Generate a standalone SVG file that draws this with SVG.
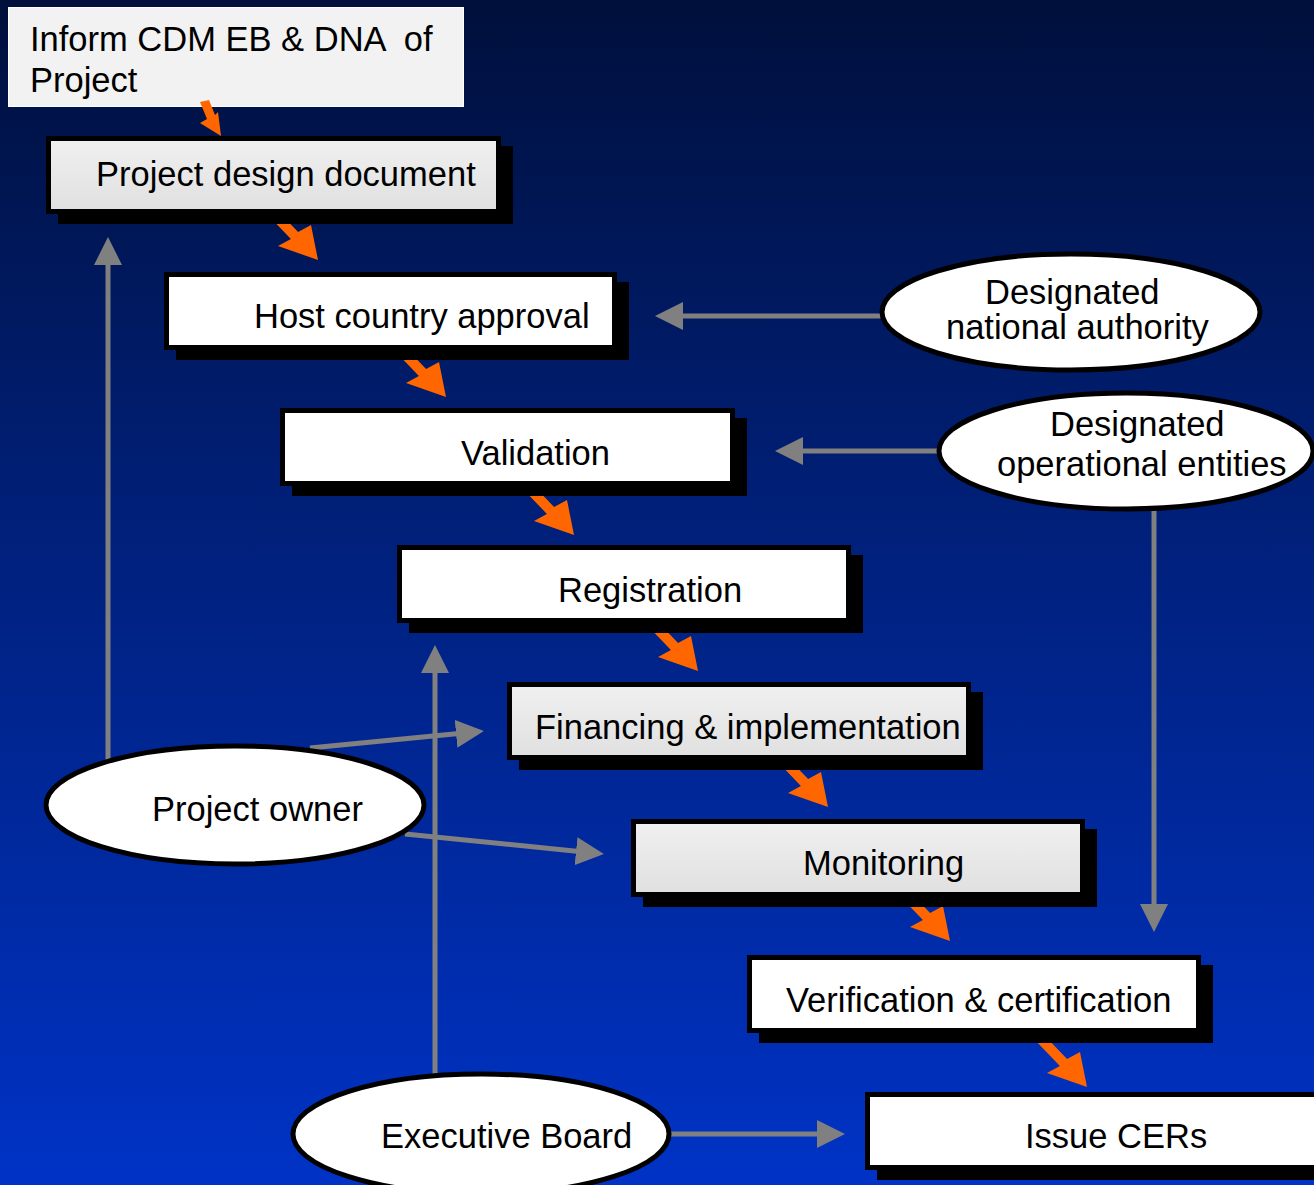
<svg xmlns="http://www.w3.org/2000/svg" width="1314" height="1185" viewBox="0 0 1314 1185">
<defs>
<linearGradient id="bg" x1="0" y1="0" x2="0" y2="1">
<stop offset="0" stop-color="#00103c"/>
<stop offset="1" stop-color="#0033c6"/>
</linearGradient>
<linearGradient id="lg" x1="0" y1="0" x2="0" y2="1">
<stop offset="0" stop-color="#f0f0f0"/>
<stop offset="1" stop-color="#e0e0e0"/>
</linearGradient>
<marker id="gh" markerUnits="userSpaceOnUse" markerWidth="28" markerHeight="28" refX="8" refY="14" orient="auto">
<path d="M0,0 L28,14 L0,28 z" fill="#808080"/>
</marker>
<path id="oarr" d="M0,0 L-40,-14 L-27.1,-21.05 L-54.7,-49.85 L-47.5,-56.75 L-19.9,-27.95 L-7,-35 z" fill="#ff6600"/>
</defs>
<style>
text{font-family:"Liberation Sans",Arial,sans-serif;font-size:34.5px;fill:#000;white-space:pre}
.shadow{fill:#000}
.box{stroke:#000;stroke-width:5}
.white{fill:#fff}
.light{fill:url(#lg)}
.ell{fill:#fff;stroke:#000;stroke-width:5}
.gl{stroke:#808080;stroke-width:5;fill:none;marker-end:url(#gh)}
</style>
<rect x="0" y="0" width="1314" height="1185" fill="url(#bg)"/>

<g id="inform">
<rect x="8.5" y="7.5" width="455" height="99" fill="#f2f2f2" stroke="#ffffff" stroke-width="1"/>
<text x="30" y="51" xml:space="preserve">Inform CDM EB &amp; DNA  of</text>
<text x="30" y="92">Project</text>
</g>

<g id="connectors">
<path d="M221,136 L200,123 L207,119 L200,102 L209,100 L215,115 L218,112 z" fill="#ff6600"/>
<use href="#oarr" x="318" y="260"/>
<use href="#oarr" x="446" y="397"/>
<use href="#oarr" x="574" y="535"/>
<use href="#oarr" x="698" y="671"/>
<use href="#oarr" x="828" y="807"/>
<use href="#oarr" x="950" y="941"/>
<use href="#oarr" x="1087" y="1087"/>
<line class="gl" x1="882" y1="316" x2="675" y2="316"/>
<line class="gl" x1="940" y1="451" x2="795" y2="451"/>
<line class="gl" x1="1154" y1="508" x2="1154" y2="912"/>
<line class="gl" x1="108" y1="762" x2="108" y2="257"/>
<line class="gl" x1="435" y1="1078" x2="435" y2="665"/>
<line class="gl" x1="668" y1="1134" x2="825" y2="1134"/>
<line class="gl" x1="310" y1="748" x2="464" y2="733"/>
<line class="gl" x1="405" y1="834" x2="584" y2="852"/>
</g>

<g id="pdd">
<rect class="shadow" x="58" y="146" width="455" height="78"/>
<rect class="box light" x="48.5" y="138.5" width="450" height="73"/>
<text x="96" y="186">Project design document</text>
</g>
<g id="hca">
<rect class="shadow" x="176" y="282" width="453" height="78"/>
<rect class="box white" x="166.5" y="274.5" width="448" height="73"/>
<text x="254" y="328">Host country approval</text>
</g>
<g id="validation">
<rect class="shadow" x="292" y="418" width="455" height="78"/>
<rect class="box white" x="282.5" y="410.5" width="450" height="73"/>
<text x="461" y="465">Validation</text>
</g>
<g id="registration">
<rect class="shadow" x="409" y="555" width="454" height="78"/>
<rect class="box white" x="399.5" y="547.5" width="449" height="73"/>
<text x="558" y="602">Registration</text>
</g>
<g id="financing">
<rect class="shadow" x="519" y="692" width="464" height="78"/>
<rect class="box light" x="509.5" y="684.5" width="459" height="73"/>
<text x="535" y="739">Financing &amp; implementation</text>
</g>
<g id="monitoring">
<rect class="shadow" x="643" y="829" width="454" height="78"/>
<rect class="box light" x="633.5" y="821.5" width="449" height="73"/>
<text x="803" y="875">Monitoring</text>
</g>
<g id="verification">
<rect class="shadow" x="759" y="965" width="454" height="78"/>
<rect class="box white" x="749.5" y="957.5" width="449" height="73"/>
<text x="786" y="1012">Verification &amp; certification</text>
</g>
<g id="issue">
<rect class="shadow" x="877" y="1102" width="460" height="78"/>
<rect class="box white" x="867.5" y="1094.5" width="455" height="73"/>
<text x="1025" y="1148">Issue CERs</text>
</g>

<g id="dna">
<ellipse class="ell" cx="1071" cy="312" rx="189" ry="58"/>
<text x="985" y="304">Designated</text>
<text x="946" y="339">national authority</text>
</g>
<g id="doe">
<ellipse class="ell" cx="1126" cy="451" rx="187" ry="58"/>
<text x="1050" y="436">Designated</text>
<text x="997" y="476">operational entities</text>
</g>
<g id="owner">
<ellipse class="ell" cx="235" cy="805" rx="189" ry="59"/>
<text x="152" y="821">Project owner</text>
</g>
<g id="eb">
<ellipse class="ell" cx="481" cy="1134" rx="188" ry="60"/>
<text x="381" y="1148">Executive Board</text>
</g>
</svg>
